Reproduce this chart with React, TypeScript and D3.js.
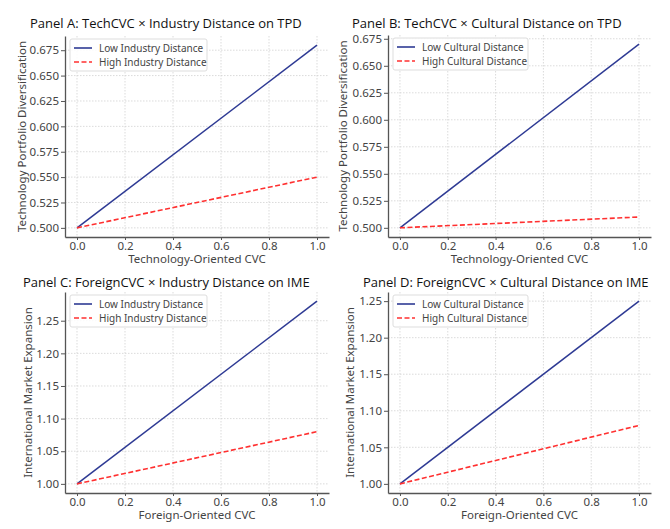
import { useEffect, useRef } from "react";
import * as d3 from "d3";

const X_POINTS = [0, 1];
const X_TICKS = [0, 0.2, 0.4, 0.6, 0.8, 1.0];

const A_LOW = [0.5, 0.68];
const A_HIGH = [0.5, 0.55];
const B_LOW = [0.5, 0.67];
const B_HIGH = [0.5, 0.51];
const C_LOW = [1.0, 1.28];
const C_HIGH = [1.0, 1.08];
const D_LOW = [1.0, 1.25];
const D_HIGH = [1.0, 1.08];

const TPD_TICKS = [0.5, 0.525, 0.55, 0.575, 0.6, 0.625, 0.65, 0.675];
const IME_TICKS = [1.0, 1.05, 1.1, 1.15, 1.2, 1.25];

const PANELS = [
  {
    title: "Panel A: TechCVC × Industry Distance on TPD",
    xLabel: "Technology-Oriented CVC",
    yLabel: "Technology Portfolio Diversification",
    low: A_LOW, high: A_HIGH, lowLabel: "Low Industry Distance", highLabel: "High Industry Distance",
    yTicks: TPD_TICKS, yFmt: ".3f",
    box: { l: 65, r: 329, t: 36, b: 237 }, titleX: 30, titleY: 28, yLabelX: 22, legendW: 137,
  },
  {
    title: "Panel B: TechCVC × Cultural Distance on TPD",
    xLabel: "Technology-Oriented CVC",
    yLabel: "Technology Portfolio Diversification",
    low: B_LOW, high: B_HIGH, lowLabel: "Low Cultural Distance", highLabel: "High Cultural Distance",
    yTicks: TPD_TICKS, yFmt: ".3f",
    box: { l: 388, r: 651, t: 35, b: 237 }, titleX: 352, titleY: 28, yLabelX: 343, legendW: 135,
  },
  {
    title: "Panel C: ForeignCVC × Industry Distance on IME",
    xLabel: "Foreign-Oriented CVC",
    yLabel: "International Market Expansion",
    low: C_LOW, high: C_HIGH, lowLabel: "Low Industry Distance", highLabel: "High Industry Distance",
    yTicks: IME_TICKS, yFmt: ".2f",
    box: { l: 65, r: 329, t: 292, b: 493 }, titleX: 23, titleY: 287, yLabelX: 28, legendW: 137,
  },
  {
    title: "Panel D: ForeignCVC × Cultural Distance on IME",
    xLabel: "Foreign-Oriented CVC",
    yLabel: "International Market Expansion",
    low: D_LOW, high: D_HIGH, lowLabel: "Low Cultural Distance", highLabel: "High Cultural Distance",
    yTicks: IME_TICKS, yFmt: ".2f",
    box: { l: 388, r: 651, t: 292, b: 493 }, titleX: 363, titleY: 287, yLabelX: 350, legendW: 135,
  },
];

const BLUE = "#2e3a94";
const RED = "#ff3030";
const TXT = "#444";
const FONT = "Noto Sans, sans-serif";

export default function App() {
  const svgRef = useRef<SVGSVGElement>(null);

  useEffect(() => {
    if (!svgRef.current) return;
    const root = d3.select(svgRef.current);
    root.selectAll("*").remove();

    PANELS.forEach(p => {
      const { l, r, t, b } = p.box;
      const allY = [...p.low, ...p.high];
      const yMin = d3.min(allY)!, yMax = d3.max(allY)!;
      const pad = (yMax - yMin) * 0.05;
      const x = d3.scaleLinear().domain([-0.05, 1.05]).range([l, r]);
      const y = d3.scaleLinear().domain([yMin - pad, yMax + pad]).range([b, t]);

      const g = root.append("g");

      // grid
      g.selectAll(".gx").data(X_TICKS).join("line")
        .attr("x1", d => x(d)).attr("x2", d => x(d)).attr("y1", t).attr("y2", b)
        .attr("stroke", "#d2d2d2").attr("stroke-width", 0.8).attr("stroke-dasharray", "1.5,1.5");
      g.selectAll(".gy").data(p.yTicks).join("line")
        .attr("x1", l).attr("x2", r).attr("y1", d => y(d)).attr("y2", d => y(d))
        .attr("stroke", "#d2d2d2").attr("stroke-width", 0.8).attr("stroke-dasharray", "1.5,1.5");

      // axes
      const ax = g.append("g").attr("transform", `translate(0,${b})`)
        .call(d3.axisBottom(x).tickValues(X_TICKS).tickFormat(d3.format(".1f")).tickSize(3).tickPadding(2).tickSizeOuter(0));
      const ay = g.append("g").attr("transform", `translate(${l},0)`)
        .call(d3.axisLeft(y).tickValues(p.yTicks).tickFormat(d3.format(p.yFmt)).tickSize(4).tickPadding(2).tickSizeOuter(0));
      [ax, ay].forEach(a => {
        a.select(".domain").attr("stroke", "#555").attr("stroke-width", 1.3);
        a.selectAll(".tick line").attr("stroke", "#555");
        a.selectAll("text").style("fill", TXT).style("font-size", "11.5px").style("font-family", FONT);
      });

      // lines
      const line = d3.line<number>().x((_, i) => x(X_POINTS[i])).y(d => y(d));
      g.append("path").datum(p.low).attr("d", line).attr("fill", "none")
        .attr("stroke", BLUE).attr("stroke-width", 1.5);
      g.append("path").datum(p.high).attr("d", line).attr("fill", "none")
        .attr("stroke", RED).attr("stroke-width", 1.6).attr("stroke-dasharray", "5,2.5");

      // legend
      const lg = g.append("g").attr("transform", `translate(${l + 5},${t + 3})`);
      lg.append("rect").attr("width", p.legendW).attr("height", 32).attr("rx", 2)
        .attr("fill", "white").attr("fill-opacity", 0.85).attr("stroke", "#ddd");
      [[p.lowLabel, BLUE, null], [p.highLabel, RED, "5,2.5"]].forEach(([lab, col, dash], i) => {
        const yy = 9 + i * 14;
        lg.append("line").attr("x1", 4).attr("x2", 22).attr("y1", yy).attr("y2", yy)
          .attr("stroke", col as string).attr("stroke-width", 1.6)
          .attr("stroke-dasharray", dash as string | null);
        lg.append("text").attr("x", 29).attr("y", yy).attr("dy", "0.35em")
          .style("font-family", FONT).style("font-size", "10px").style("fill", TXT).text(lab as string);
      });

      // titles
      g.append("text").attr("x", p.titleX).attr("y", p.titleY)
        .style("font-family", "Open Sans, sans-serif").style("font-size", "13px").style("fill", "#111")
        .text(p.title);
      g.append("text").attr("x", (l + r) / 2).attr("y", b + 25.5).attr("text-anchor", "middle")
        .style("font-family", FONT).style("font-size", "11.5px").style("fill", TXT).text(p.xLabel);
      g.append("text").attr("transform", `translate(${p.yLabelX},${(t + b) / 2}) rotate(-90)`)
        .attr("text-anchor", "middle").attr("dy", "0.35em")
        .style("font-family", FONT).style("font-size", "11.5px").style("fill", TXT).text(p.yLabel);
    });
  }, []);

  return (
    <svg ref={svgRef} width={670} height={529}
      style={{ position: "absolute", left: 0, top: 0, background: "white", display: "block" }} />
  );
}
